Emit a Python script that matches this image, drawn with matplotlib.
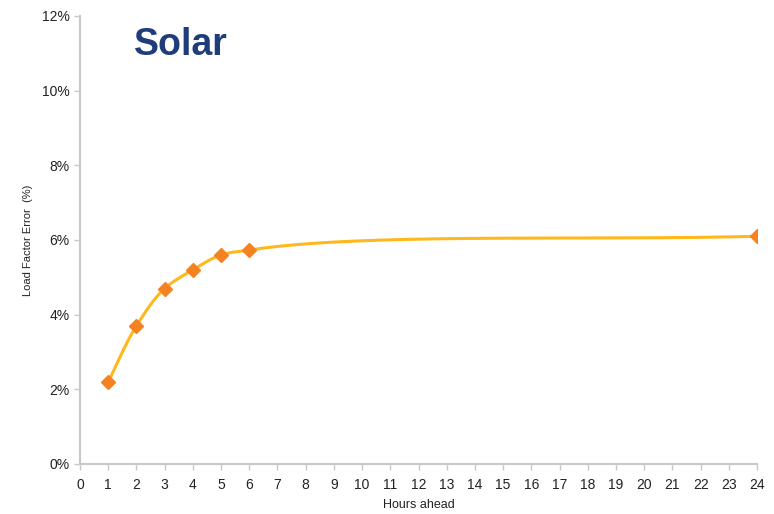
import matplotlib
matplotlib.use("Agg")
import matplotlib.pyplot as plt
import numpy as np

# forecast error by horizon
hours = [1, 2, 3, 4, 5, 6, 24]
error_pct = [2.2, 3.7, 4.7, 5.2, 5.6, 5.73, 6.1]

x_ticks = list(range(0, 25))
y_ticks = [0, 2, 4, 6, 8, 10, 12]
y_labels = ["0%", "2%", "4%", "6%", "8%", "10%", "12%"]


def smooth_curve(xs, ys, sx, sy, alpha=0.5, n=60):
    # catmull-rom through the points, worked out in screen-ish units
    P = np.column_stack([np.asarray(xs, float) * sx, np.asarray(ys, float) * sy])
    P = np.vstack([2 * P[0] - P[1], P, 2 * P[-1] - P[-2]])
    out = []
    for i in range(1, len(P) - 2):
        p0, p1, p2, p3 = P[i - 1], P[i], P[i + 1], P[i + 2]
        t0 = 0.0
        t1 = t0 + np.linalg.norm(p1 - p0) ** alpha
        t2 = t1 + np.linalg.norm(p2 - p1) ** alpha
        t3 = t2 + np.linalg.norm(p3 - p2) ** alpha
        t = np.linspace(t1, t2, n)[:, None]
        a1 = (t1 - t) / (t1 - t0) * p0 + (t - t0) / (t1 - t0) * p1
        a2 = (t2 - t) / (t2 - t1) * p1 + (t - t1) / (t2 - t1) * p2
        a3 = (t3 - t) / (t3 - t2) * p2 + (t - t2) / (t3 - t2) * p3
        b1 = (t2 - t) / (t2 - t0) * a1 + (t - t0) / (t2 - t0) * a2
        b2 = (t3 - t) / (t3 - t1) * a2 + (t - t1) / (t3 - t1) * a3
        c = (t2 - t) / (t2 - t1) * b1 + (t - t1) / (t2 - t1) * b2
        out.append(c)
    c = np.vstack(out)
    return c[:, 0] / sx, c[:, 1] / sy


plt.rcParams["font.family"] = ["Liberation Sans", "DejaVu Sans"]

fig = plt.figure(figsize=(7.74, 5.14), dpi=100)
ax = fig.add_axes([0.1034, 0.0973, 0.8747, 0.8716])

cx, cy = smooth_curve(hours, error_pct, 677 / 24, 448 / 12, alpha=0.85)
ax.plot(cx, cy, color="#ffb81c", lw=2.2, zorder=2)
ax.plot(hours, error_pct, linestyle="none", marker="D", markersize=7.5,
        color="#f58220", markeredgecolor="#f58220", zorder=3)

ax.set_xlim(0, 24)
ax.set_ylim(0, 12)
ax.set_xticks(x_ticks)
ax.set_yticks(y_ticks)
ax.set_yticklabels(y_labels)

for side in ["top", "right"]:
    ax.spines[side].set_visible(False)
for side in ["left", "bottom"]:
    ax.spines[side].set_color("#c8c8c8")
    ax.spines[side].set_linewidth(1.5)
ax.tick_params(colors="#c8c8c8", labelcolor="#222222", length=4, width=1,
               labelsize=10)
ax.tick_params(axis="x", pad=6)

ax.set_xlabel("Hours ahead", fontsize=9, color="#222222", labelpad=5)
ax.set_ylabel("Load Factor Error  (%)", fontsize=8, color="#222222", labelpad=6)

ax.text(0.08, 0.935, "Solar", transform=ax.transAxes, fontsize=27,
        fontweight="bold", color="#1f3d7a", va="center", ha="left")

fig.savefig("out.png", dpi=100)
